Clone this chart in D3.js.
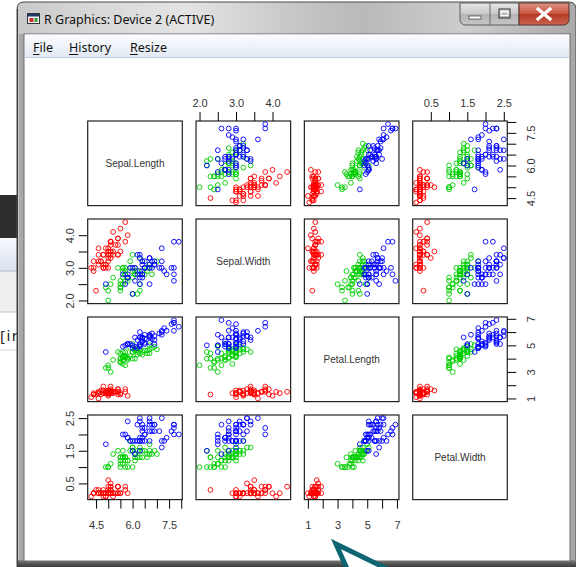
<!DOCTYPE html>
<html>
<head>
<meta charset="utf-8">
<script src="https://cdn.jsdelivr.net/npm/d3@7"></script>
<style>
  body { margin: 0; background: #fff; }
  svg { display: block; }
</style>
</head>
<body>
<div id="chart"></div>
<script>
// iris data, one array per column
var varNames = ["Sepal.Length", "Sepal.Width", "Petal.Length", "Petal.Width"];

var sepalLength = [5.1,4.9,4.7,4.6,5.0,5.4,4.6,5.0,4.4,4.9,5.4,4.8,4.8,4.3,5.8,5.7,5.4,5.1,5.7,5.1,5.4,5.1,4.6,5.1,4.8,5.0,5.0,5.2,5.2,4.7,4.8,5.4,5.2,5.5,4.9,5.0,5.5,4.9,4.4,5.1,5.0,4.5,4.4,5.0,5.1,4.8,5.1,4.6,5.3,5.0,
  7.0,6.4,6.9,5.5,6.5,5.7,6.3,4.9,6.6,5.2,5.0,5.9,6.0,6.1,5.6,6.7,5.6,5.8,6.2,5.6,5.9,6.1,6.3,6.1,6.4,6.6,6.8,6.7,6.0,5.7,5.5,5.5,5.8,6.0,5.4,6.0,6.7,6.3,5.6,5.5,5.5,6.1,5.8,5.0,5.6,5.7,5.7,6.2,5.1,5.7,
  6.3,5.8,7.1,6.3,6.5,7.6,4.9,7.3,6.7,7.2,6.5,6.4,6.8,5.7,5.8,6.4,6.5,7.7,7.7,6.0,6.9,5.6,7.7,6.3,6.7,7.2,6.2,6.1,6.4,7.2,7.4,7.9,6.4,6.3,6.1,7.7,6.3,6.4,6.0,6.9,6.7,6.9,5.8,6.8,6.7,6.7,6.3,6.5,6.2,5.9];

var sepalWidth = [3.5,3.0,3.2,3.1,3.6,3.9,3.4,3.4,2.9,3.1,3.7,3.4,3.0,3.0,4.0,4.4,3.9,3.5,3.8,3.8,3.4,3.7,3.6,3.3,3.4,3.0,3.4,3.5,3.4,3.2,3.1,3.4,4.1,4.2,3.1,3.2,3.5,3.6,3.0,3.4,3.5,2.3,3.2,3.5,3.8,3.0,3.8,3.2,3.7,3.3,
  3.2,3.2,3.1,2.3,2.8,2.8,3.3,2.4,2.9,2.7,2.0,3.0,2.2,2.9,2.9,3.1,3.0,2.7,2.2,2.5,3.2,2.8,2.5,2.8,2.9,3.0,2.8,3.0,2.9,2.6,2.4,2.4,2.7,2.7,3.0,3.4,3.1,2.3,3.0,2.5,2.6,3.0,2.6,2.3,2.7,3.0,2.9,2.9,2.5,2.8,
  3.3,2.7,3.0,2.9,3.0,3.0,2.5,2.9,2.5,3.6,3.2,2.7,3.0,2.5,2.8,3.2,3.0,3.8,2.6,2.2,3.2,2.8,2.8,2.7,3.3,3.2,2.8,3.0,2.8,3.0,2.8,3.8,2.8,2.8,2.6,3.0,3.4,3.1,3.0,3.1,3.1,3.1,2.7,3.2,3.3,3.0,2.5,3.0,3.4,3.0];

var petalLength = [1.4,1.4,1.3,1.5,1.4,1.7,1.4,1.5,1.4,1.5,1.5,1.6,1.4,1.1,1.2,1.5,1.3,1.4,1.7,1.5,1.7,1.5,1.0,1.7,1.9,1.6,1.6,1.5,1.4,1.6,1.6,1.5,1.5,1.4,1.5,1.2,1.3,1.4,1.3,1.5,1.3,1.3,1.3,1.6,1.9,1.4,1.6,1.4,1.5,1.4,
  4.7,4.5,4.9,4.0,4.6,4.5,4.7,3.3,4.6,3.9,3.5,4.2,4.0,4.7,3.6,4.4,4.5,4.1,4.5,3.9,4.8,4.0,4.9,4.7,4.3,4.4,4.8,5.0,4.5,3.5,3.8,3.7,3.9,5.1,4.5,4.5,4.7,4.4,4.1,4.0,4.4,4.6,4.0,3.3,4.2,4.2,4.2,4.3,3.0,4.1,
  6.0,5.1,5.9,5.6,5.8,6.6,4.5,6.3,5.8,6.1,5.1,5.3,5.5,5.0,5.1,5.3,5.5,6.7,6.9,5.0,5.7,4.9,6.7,4.9,5.7,6.0,4.8,4.9,5.6,5.8,6.1,6.4,5.6,5.1,5.6,6.1,5.6,5.5,4.8,5.4,5.6,5.1,5.1,5.9,5.7,5.2,5.0,5.2,5.4,5.1];

var petalWidth = [0.2,0.2,0.2,0.2,0.2,0.4,0.3,0.2,0.2,0.1,0.2,0.2,0.1,0.1,0.2,0.4,0.4,0.3,0.3,0.3,0.2,0.4,0.2,0.5,0.2,0.2,0.4,0.2,0.2,0.2,0.2,0.4,0.1,0.2,0.2,0.2,0.2,0.1,0.2,0.2,0.3,0.3,0.2,0.6,0.4,0.3,0.2,0.2,0.2,0.2,
  1.4,1.5,1.5,1.3,1.5,1.3,1.6,1.0,1.3,1.4,1.0,1.5,1.0,1.4,1.3,1.4,1.5,1.0,1.5,1.1,1.8,1.3,1.5,1.2,1.3,1.4,1.4,1.7,1.5,1.0,1.1,1.0,1.2,1.6,1.5,1.6,1.5,1.3,1.3,1.3,1.2,1.4,1.2,1.0,1.3,1.2,1.3,1.3,1.1,1.3,
  2.5,1.9,2.1,1.8,2.2,2.1,1.7,1.8,1.8,2.5,2.0,1.9,2.1,2.0,2.4,2.3,1.8,2.2,2.3,1.5,2.3,2.0,2.0,1.8,2.1,1.8,1.8,1.8,2.1,1.6,1.9,2.0,2.2,1.5,1.4,2.3,2.4,1.8,1.8,2.1,2.4,2.3,1.9,2.3,2.5,2.3,1.9,2.0,2.3,1.8];

// 0 = setosa, 1 = versicolor, 2 = virginica
var species = [0,0,0,0,0,0,0,0,0,0,0,0,0,0,0,0,0,0,0,0,0,0,0,0,0,0,0,0,0,0,0,0,0,0,0,0,0,0,0,0,0,0,0,0,0,0,0,0,0,0,
  1,1,1,1,1,1,1,1,1,1,1,1,1,1,1,1,1,1,1,1,1,1,1,1,1,1,1,1,1,1,1,1,1,1,1,1,1,1,1,1,1,1,1,1,1,1,1,1,1,1,
  2,2,2,2,2,2,2,2,2,2,2,2,2,2,2,2,2,2,2,2,2,2,2,2,2,2,2,2,2,2,2,2,2,2,2,2,2,2,2,2,2,2,2,2,2,2,2,2,2,2];

var speciesColors = ["#ff0000", "#00cd00", "#0000ff"];

var tickValues = [
  [4.5, 5.0, 5.5, 6.0, 6.5, 7.0, 7.5, 8.0],
  [2.0, 2.5, 3.0, 3.5, 4.0],
  [1, 2, 3, 4, 5, 6, 7],
  [0.5, 1.0, 1.5, 2.0, 2.5]
];
var tickLabels = [
  ["4.5", "6.0", "7.5"],
  ["2.0", "3.0", "4.0"],
  ["1", "3", "5", "7"],
  ["0.5", "1.5", "2.5"]
];

var columns = [sepalLength, sepalWidth, petalLength, petalWidth];

var svgWidth = 576;
var svgHeight = 567;

var svg = d3.select("#chart")
  .append("svg")
  .attr("width", svgWidth)
  .attr("height", svgHeight);

var defs = svg.append("defs");

function gradient(id, x2, y2, stops) {
  var g = defs.append("linearGradient")
    .attr("id", id)
    .attr("x1", 0).attr("y1", 0).attr("x2", x2).attr("y2", y2);
  stops.forEach(function (s) {
    g.append("stop").attr("offset", s[0]).attr("stop-color", s[1]);
  });
}

gradient("titleGrad", 1, 0, [[0, "#c9c9c9"], [0.12, "#d6d6d6"], [0.3, "#e4e4e4"], [0.5, "#c6c6c6"], [0.62, "#b9b9b9"], [0.8, "#cdcdcd"], [1, "#a9a9a9"]]);
gradient("menuGrad", 0, 1, [[0, "#fbfcfe"], [1, "#e2e9f4"]]);
gradient("bottomGrad", 0, 1, [[0, "#8a8a8a"], [0.4, "#5c5c5c"], [1, "#3c3c3c"]]);
gradient("btnGrad", 0, 1, [[0, "#e6e6e6"], [0.5, "#c9c9c9"], [0.51, "#b4b4b4"], [1, "#c6c6c6"]]);
gradient("closeGrad", 0, 1, [[0, "#dc9484"], [0.5, "#c9523e"], [0.51, "#b53a26"], [1, "#c96450"]]);
gradient("bgBarGrad", 0, 1, [[0, "#f6f8fc"], [1, "#dbe3ef"]]);

// ---- window behind, on the left ----
var back = svg.append("g");
back.append("rect").attr("x", 0).attr("y", 195).attr("width", 18).attr("height", 43).attr("fill", "#2e2e2e");
back.append("rect").attr("x", 0).attr("y", 238).attr("width", 18).attr("height", 33).attr("fill", "url(#bgBarGrad)");
back.append("rect").attr("x", 0).attr("y", 271).attr("width", 18).attr("height", 41).attr("fill", "#efefef");
back.append("line").attr("x1", 0).attr("x2", 18).attr("y1", 271).attr("y2", 271).attr("stroke", "#b8c0cc");
back.append("line").attr("x1", 0).attr("x2", 18).attr("y1", 312).attr("y2", 312).attr("stroke", "#c4c4c4");
back.append("line").attr("x1", 0).attr("x2", 18).attr("y1", 350).attr("y2", 350).attr("stroke", "#d8d8d8");
back.append("text").attr("x", 0).attr("y", 341)
  .style("font-family", "Noto Sans").style("font-size", "15px").style("letter-spacing", "1.5px").style("fill", "#222")
  .text("[iris");

// ---- R graphics window ----
var win = svg.append("g");
win.append("path")
  .attr("d", "M17,567 L17,9 Q17,2 24,2 L569,2 Q576,2 576,9 L576,567 Z")
  .attr("fill", "url(#titleGrad)")
  .attr("stroke", "#4a4a4a").attr("stroke-width", 1);
win.append("rect").attr("x", 19).attr("y", 34).attr("width", 555).attr("height", 533).attr("fill", "#a8a8a8");
win.append("rect").attr("x", 17).attr("y", 560).attr("width", 559).attr("height", 7).attr("fill", "url(#bottomGrad)");
win.append("line").attr("x1", 17.5).attr("x2", 17.5).attr("y1", 9).attr("y2", 567).attr("stroke", "#3a3a3a");
win.append("rect").attr("x", 24).attr("y", 34).attr("width", 546).attr("height", 527).attr("fill", "#ffffff")
  .attr("stroke", "#6d6d6d").attr("stroke-width", 1);
win.append("rect").attr("x", 25).attr("y", 34.5).attr("width", 544).attr("height", 23).attr("fill", "url(#menuGrad)");
win.append("line").attr("x1", 25).attr("x2", 569).attr("y1", 57.5).attr("y2", 57.5).attr("stroke", "#c3cbd8");

// title icon
win.append("rect").attr("x", 27.5).attr("y", 13.5).attr("width", 12).attr("height", 10).attr("fill", "#f4f4f4").attr("stroke", "#333");
win.append("rect").attr("x", 28).attr("y", 14).attr("width", 11).attr("height", 2.5).attr("fill", "#1d3a6b");
win.append("rect").attr("x", 29.5).attr("y", 18).attr("width", 4).attr("height", 4).attr("fill", "#c83030");
win.append("rect").attr("x", 34.5).attr("y", 18).attr("width", 3).attr("height", 4).attr("fill", "#3a9a3a");

win.append("text").attr("x", 44).attr("y", 24)
  .style("font-family", "Noto Sans").style("font-size", "12.5px").style("fill", "#111")
  .text("R Graphics: Device 2 (ACTIVE)");

var menuItems = [["File", 33], ["History", 69], ["Resize", 130]];
menuItems.forEach(function (m) {
  var t = win.append("text").attr("x", m[1]).attr("y", 52)
    .style("font-family", "Noto Sans").style("font-size", "12.5px").style("fill", "#111")
    .text(m[0]);
  var w = t.node().getSubStringLength(0, 1);
  win.append("line").attr("x1", m[1]).attr("x2", m[1] + w).attr("y1", 54.5).attr("y2", 54.5)
    .attr("stroke", "#111").attr("stroke-width", 1);
});

// caption buttons
win.append("path").attr("d", "M460,3 L519,3 L519,25 L466,25 Q460,25 460,19 Z")
  .attr("fill", "url(#btnGrad)").attr("stroke", "#5a5a5a");
win.append("line").attr("x1", 490).attr("x2", 490).attr("y1", 3).attr("y2", 25).attr("stroke", "#6a6a6a");
win.append("path").attr("d", "M519,3 L569,3 L569,19 Q569,25 563,25 L519,25 Z")
  .attr("fill", "url(#closeGrad)").attr("stroke", "#5a3030");
win.append("rect").attr("x", 469).attr("y", 16).attr("width", 12).attr("height", 3).attr("fill", "#fff").attr("stroke", "#333").attr("stroke-width", 0.7);
win.append("rect").attr("x", 499).attr("y", 9).attr("width", 11).attr("height", 9).attr("fill", "none").attr("stroke", "#333").attr("stroke-width", 1);
win.append("rect").attr("x", 501).attr("y", 11.5).attr("width", 7).attr("height", 4).attr("fill", "none").attr("stroke", "#fff").attr("stroke-width", 1);
win.append("path").attr("d", "M538,9 L550,19 M550,9 L538,19")
  .attr("stroke", "#fff").attr("stroke-width", 3.2).attr("stroke-linecap", "square");

// ---- pairs plot ----
var x0 = 87.7, y0 = 121, stepX = 108.33, stepY = 98, pw = 94.6, ph = 84.6;

var domains = columns.map(function (col) {
  var e = d3.extent(col);
  var pad = (e[1] - e[0]) * 0.04;
  return [e[0] - pad, e[1] + pad];
});
var xScales = domains.map(function (d) { return d3.scaleLinear().domain(d).range([0, pw]); });
var yScales = domains.map(function (d) { return d3.scaleLinear().domain(d).range([ph, 0]); });

function labelFor(k) {
  return function (d) {
    var found = tickLabels[k].filter(function (l) { return Math.abs(+l - d) < 1e-9; });
    return found.length ? found[0] : "";
  };
}

var plot = svg.append("g");

function styleAxis(g) {
  g.select(".domain").remove();
  g.selectAll("line").attr("stroke", "#000").attr("stroke-width", 1);
  g.selectAll("text")
    .style("font-family", "Liberation Sans, Arial")
    .style("font-size", "11px")
    .style("fill", "#333");
}

for (var i = 0; i < 4; i++) {
  for (var j = 0; j < 4; j++) {
    var cell = plot.append("g")
      .attr("transform", "translate(" + (x0 + j * stepX) + "," + (y0 + i * stepY) + ")");

    if (i === j) {
      cell.append("text")
        .attr("x", pw / 2).attr("y", ph / 2).attr("dy", "0.35em")
        .attr("text-anchor", "middle")
        .style("font-family", "Liberation Sans, Arial").style("font-size", "10px").style("fill", "#333")
        .text(varNames[i]);
    } else {
      var xs = xScales[j], ys = yScales[i];
      cell.selectAll("circle")
        .data(d3.range(species.length))
        .enter()
        .append("circle")
        .attr("cx", function (k) { return xs(columns[j][k]); })
        .attr("cy", function (k) { return ys(columns[i][k]); })
        .attr("r", 2.4)
        .attr("fill", "none")
        .attr("stroke", function (k) { return speciesColors[species[k]]; })
        .attr("stroke-width", 0.9);
    }

    cell.append("rect")
      .attr("width", pw).attr("height", ph)
      .attr("fill", "none").attr("stroke", "#222").attr("stroke-width", 1.2);

    // axes like R's pairs(): alternating sides
    if (i === 0 && j % 2 === 1) {
      cell.append("g")
        .call(d3.axisTop(xScales[j]).tickValues(tickValues[j]).tickSize(9).tickSizeOuter(0)
          .tickPadding(5.3).tickFormat(labelFor(j)))
        .call(styleAxis);
    }
    if (i === 3 && j % 2 === 0) {
      cell.append("g")
        .attr("transform", "translate(0," + ph + ")")
        .call(d3.axisBottom(xScales[j]).tickValues(tickValues[j]).tickSize(9).tickSizeOuter(0)
          .tickPadding(13).tickFormat(labelFor(j)))
        .call(styleAxis);
    }
    if (j === 0 && i % 2 === 1) {
      cell.append("g")
        .call(d3.axisLeft(yScales[i]).tickValues(tickValues[i]).tickSize(9).tickSizeOuter(0)
          .tickFormat(labelFor(i)))
        .call(styleAxis)
        .selectAll("text")
        .attr("x", 0).attr("y", -13.7).attr("dy", null)
        .attr("transform", "rotate(-90)")
        .attr("text-anchor", "middle");
    }
    if (j === 3 && i % 2 === 0) {
      cell.append("g")
        .attr("transform", "translate(" + pw + ",0)")
        .call(d3.axisRight(yScales[i]).tickValues(tickValues[i]).tickSize(9).tickSizeOuter(0)
          .tickFormat(labelFor(i)))
        .call(styleAxis)
        .selectAll("text")
        .attr("x", 0).attr("y", 27.7).attr("dy", null)
        .attr("transform", "rotate(-90)")
        .attr("text-anchor", "middle");
    }
  }
}

// ---- teal callout arrow over the bottom edge ----
svg.append("path")
  .attr("d", "M352,580 L336,544 L410,580")
  .attr("fill", "#ffffff")
  .attr("stroke", "#0e6672")
  .attr("stroke-width", 5)
  .attr("stroke-linejoin", "miter");
</script>
</body>
</html>
